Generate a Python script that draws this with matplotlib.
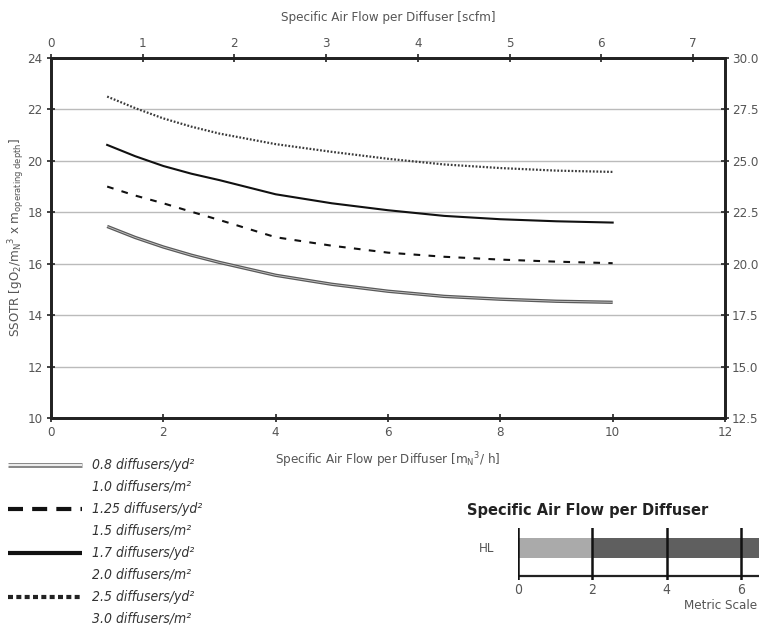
import numpy as np
import matplotlib
matplotlib.use("Agg")
import matplotlib.pyplot as plt
from matplotlib.lines import Line2D

plt.rcParams['font.family'] = ['DejaVu Sans']
plt.rcParams['font.stretch'] = 'condensed'

# ---------------------------------------------------------------------
# data
# ---------------------------------------------------------------------
air_flow = [1, 1.5, 2, 2.5, 3, 4, 5, 6, 7, 8, 9, 10]          # m_N^3/h per diffuser
ssotr_08 = [17.45, 17.02, 16.65, 16.33, 16.05, 15.55, 15.2, 14.93, 14.73, 14.62, 14.54, 14.5]
ssotr_125 = [19.0, 18.65, 18.35, 18.02, 17.7, 17.03, 16.7, 16.43, 16.27, 16.16, 16.08, 16.02]
ssotr_17 = [20.62, 20.18, 19.8, 19.5, 19.25, 18.7, 18.35, 18.08, 17.86, 17.73, 17.65, 17.6]
ssotr_25 = [22.5, 22.05, 21.65, 21.33, 21.06, 20.65, 20.35, 20.08, 19.86, 19.72, 19.62, 19.57]

legend_labels = ["0.8 diffusers/yd²", "1.0 diffusers/m²",
                 "1.25 diffusers/yd²", "1.5 diffusers/m²",
                 "1.7 diffusers/yd²", "2.0 diffusers/m²",
                 "2.5 diffusers/yd²", "3.0 diffusers/m²"]

x_ticks = [0, 2, 4, 6, 8, 10, 12]
y_ticks = [10, 12, 14, 16, 18, 20, 22, 24]
top_ticks = [0, 1, 2, 3, 4, 5, 6, 7]
right_ticks = [12.5, 15.0, 17.5, 20.0, 22.5, 25.0, 27.5, 30.0]

scale_ticks = [0, 2, 4, 6]
hl_light = (0, 2)
hl_dark = (2, 6.49)

TXT = "#555555"
FS = 9.5

fig = plt.figure(figsize=(7.59, 6.31), dpi=100)
W, H = 759, 631

def fx(px):
    return px / W

def fy(py):
    return 1 - py / H

ax = fig.add_axes([fx(51), fy(418), fx(725) - fx(51), fy(58) - fy(418)])
ax.set_xlim(0, 12)
ax.set_ylim(10, 24)
ax.set_xticks(x_ticks)
ax.set_yticks(y_ticks)
ax.grid(axis="y", color="#bbbbbb", linewidth=1.0)
ax.set_axisbelow(True)
for s in ax.spines.values():
    s.set_linewidth(1.8)
    s.set_color("#222222")
ax.tick_params(direction="inout", length=6, width=1.2, color="#222222",
               labelcolor=TXT, labelsize=FS, pad=3)

# curves
ax.plot(air_flow, ssotr_08, color="#5a5a5a", lw=2.4, solid_capstyle="butt")
ax.plot(air_flow, ssotr_08, color="#c8c8c8", lw=0.6, solid_capstyle="butt")
ax.plot(air_flow, ssotr_125, color="#111111", lw=1.5, dashes=(3.2, 4.0))
ax.plot(air_flow, ssotr_17, color="#111111", lw=1.5)
ax.plot(air_flow, ssotr_25, color="#3a3a3a", lw=1.6, dashes=(0.8, 0.8))

ax.set_xlabel("Specific Air Flow per Diffuser [m$_\\mathregular{N}$$^\\mathregular{3}$/ h]",
              color=TXT, fontsize=FS, labelpad=8)
ax.set_ylabel("SSOTR [gO$_\\mathregular{2}$/m$_\\mathregular{N}$$^\\mathregular{3}$ x m$_\\mathregular{operating\\ depth}$]",
              color=TXT, fontsize=FS, labelpad=0)

top = ax.twiny()
top.set_xlim(0, 7.35)
top.set_xticks(top_ticks)
top.tick_params(direction="inout", length=6, width=1.2, color="#222222",
                labelcolor=TXT, labelsize=FS, pad=3)
top.set_xlabel("Specific Air Flow per Diffuser [scfm]", color=TXT, fontsize=FS, labelpad=11)

right = ax.twinx()
right.set_ylim(12.5, 30)
right.set_yticks(right_ticks)
right.set_yticklabels([f"{v:.1f}" for v in right_ticks])
right.tick_params(direction="inout", length=6, width=1.2, color="#222222",
                  labelcolor=TXT, labelsize=FS, pad=2)
for a in (top, right):
    for s in a.spines.values():
        s.set_linewidth(1.8)
        s.set_color("#222222")

# ---------------------------------------------------------------------
# legend block, bottom left
# ---------------------------------------------------------------------
lg = fig.add_axes([0, 0, fx(270), fy(450)])
lg.set_xlim(0, 270)
lg.set_ylim(631, 450)
lg.axis("off")
row0, step = 465, 22
styles = [
    dict(color="#8a8a8a", lw=3.6, solid_capstyle="butt"),
    dict(color="#111111", lw=3.0, dashes=(3.6, 2.2)),
    dict(color="#111111", lw=3.0, solid_capstyle="butt"),
    dict(color="#222222", lw=3.0, dashes=(1.2, 0.8)),
]
for i, lab in enumerate(legend_labels):
    yy = row0 + i * step
    lg.text(92, yy, lab, fontsize=10, style="italic", color="#333333",
            va="center", ha="left")
    if i % 2 == 0:
        st = styles[i // 2]
        lg.add_line(Line2D([8, 82], [yy, yy], **st))
        if i == 0:
            lg.add_line(Line2D([8, 82], [yy, yy], color="white", lw=1.2,
                               solid_capstyle="butt"))

# ---------------------------------------------------------------------
# inset scale, bottom right
# ---------------------------------------------------------------------
fig.text(fx(467), fy(510), "Specific Air Flow per Diffuser", fontsize=10.5,
         fontweight="bold", color="#222222", va="center", ha="left",
         fontstretch="normal")
fig.text(fx(487), fy(548), "HL", fontsize=FS, color=TXT, va="center", ha="center")

sc = fig.add_axes([fx(518), fy(580), 1 - fx(518), fy(528) - fy(580)])
sc.set_xlim(0, 6.49)
sc.set_ylim(0, 52)
sc.axis("off")
sc.barh(32, hl_light[1] - hl_light[0], left=hl_light[0], height=20, color="#aaaaaa")
sc.barh(32, hl_dark[1] - hl_dark[0], left=hl_dark[0], height=20, color="#5f5f5f")
sc.axhline(4, color="#222222", lw=1.6, xmin=0, xmax=1)
for t in scale_ticks:
    sc.axvline(t, color="#111111", lw=1.8)
    sc.text(t, -3, str(t), ha="center", va="top", fontsize=10, color=TXT,
            clip_on=False)
sc.text(6.45, -19, "Metric Scale", ha="right", va="top", fontsize=FS,
        color=TXT, clip_on=False)

fig.savefig("out.png", dpi=100, facecolor="white")
